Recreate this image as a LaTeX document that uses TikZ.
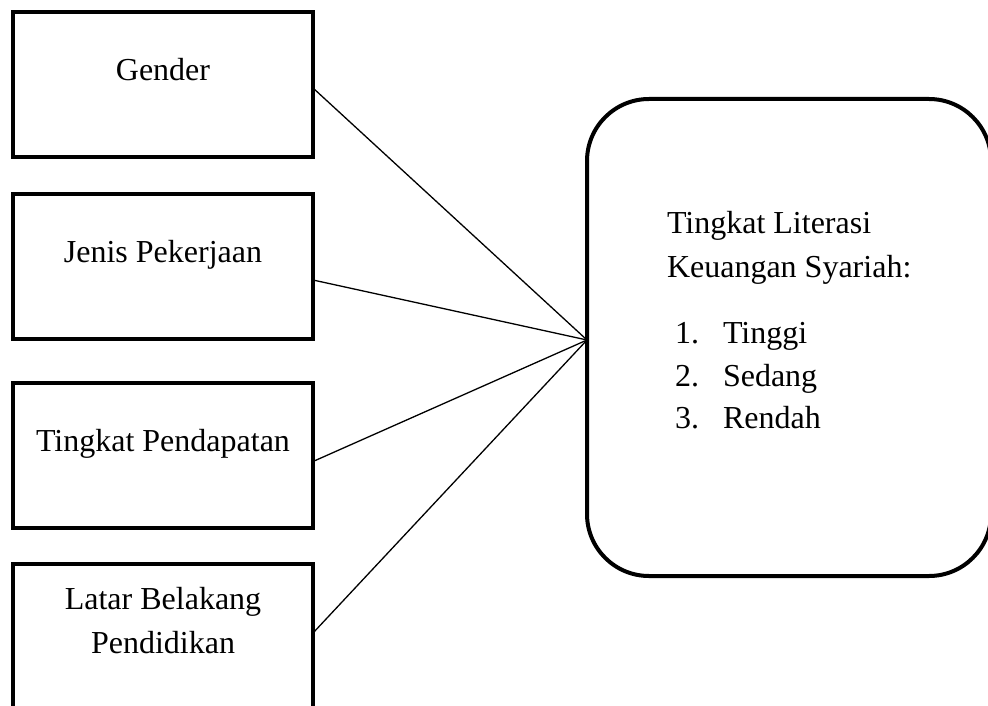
\documentclass[tikz,border=0pt]{standalone}
\usepackage{fontspec}
\setmainfont{Liberation Serif}
\usepackage{tikz}
\usetikzlibrary{positioning}

\begin{document}
\begin{tikzpicture}[
    faktor/.style={rectangle,draw,line width=2pt,minimum width=150pt,minimum height=72.5pt,inner sep=0pt,outer sep=0pt},
    hasil/.style={rectangle,draw,line width=2pt,rounded corners=31pt,minimum width=202pt,minimum height=238.5pt,inner sep=0pt,outer sep=0pt},
    teks/.style={inner sep=0pt,outer sep=0pt,align=center,font=\fontsize{16pt}{22pt}\selectfont},
    garis/.style={line width=0.65pt},
    node distance=18.5pt
]
    \useasboundingbox (0,0) rectangle (494pt,-352.5pt);
    % faktor-faktor
    \node[faktor] (gen) at (81.5pt,-42.25pt) {};
    \node[faktor,below=of gen] (kerja) {};
    \node[faktor,below=22pt of kerja] (dapat) {};
    \node[faktor,below=18pt of dapat] (didik) {};
    \node[teks,below=23pt of gen.north] (genT) {Gender};
    \node[teks,below=23pt of kerja.north] (kerjaT) {Jenis Pekerjaan};
    \node[teks,below=23pt of dapat.north] (dapatT) {Tingkat Pendapatan};
    \node[teks,below=11.5pt of didik.north] (didikT) {Latar Belakang\\Pendidikan};
    % tingkat literasi
    \node[hasil] (lit) at (394.5pt,-168.75pt) {};
    \node[teks,align=left,below right=56pt and 40pt of lit.north west] (litT) {Tingkat Literasi\\Keuangan Syariah:};
    \node[teks,below right=107.5pt and 44pt of lit.north west] (litL) {\renewcommand{\arraystretch}{0.966}%
        \begin{tabular}{@{}l@{\hspace{12pt}}l@{}}1. & Tinggi\\ 2. & Sedang\\ 3. & Rendah\end{tabular}};
    \coordinate (hub) at ([yshift=-1.25pt]lit.west);
    \draw[garis] ([yshift=-1.75pt]gen.east) -- (hub);
    \draw[garis] ([yshift=-6.75pt]kerja.east) -- (hub);
    \draw[garis] ([yshift=-3pt]dapat.east) -- (hub);
    \draw[garis] ([yshift=1.75pt]didik.east) -- (hub);
\end{tikzpicture}
\end{document}
